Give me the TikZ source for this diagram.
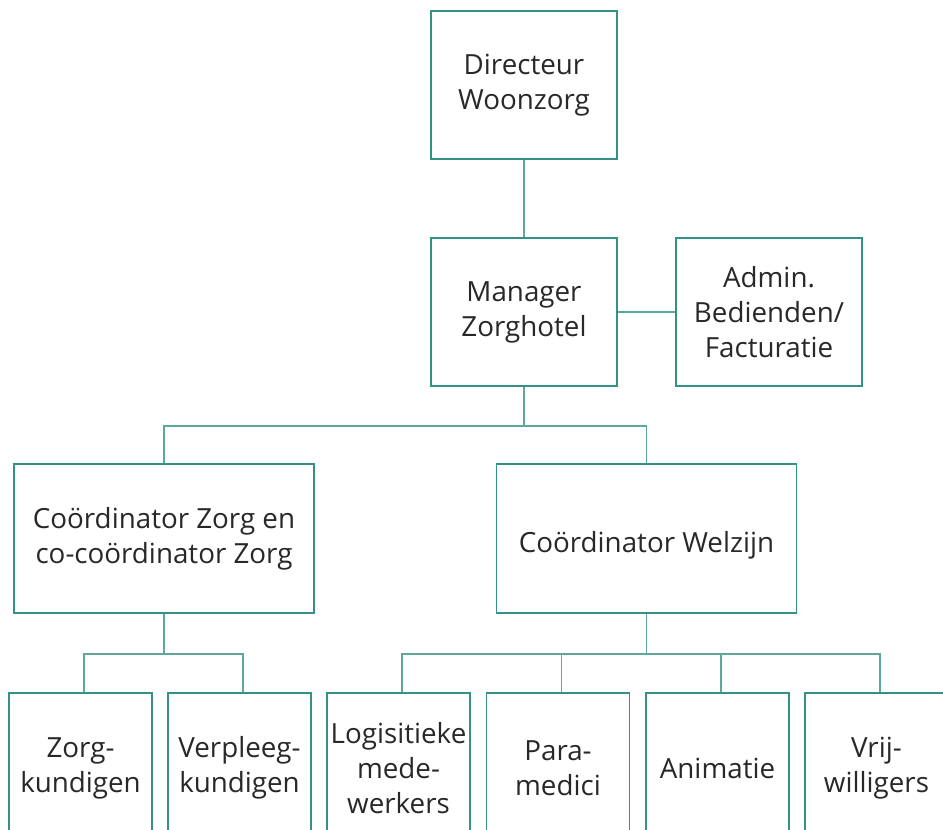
\documentclass[tikz,border=0pt]{standalone}
\usepackage{fontspec}
\setmainfont{Open Sans}
\usetikzlibrary{positioning}
\definecolor{orgteal}{RGB}{52,145,133}
\definecolor{orgtext}{RGB}{40,40,40}

\begin{document}
\begin{tikzpicture}[x=0.02cm, y=-0.02cm,
    orgbox/.style={draw=orgteal, line width=0.7pt, text=orgtext, align=center,
        inner sep=0pt, font=\fontsize{15.8}{20}\selectfont},
    dropped/.style={execute at begin node={\rule{0pt}{19.5pt}}},
    topbox/.style={orgbox, dropped, minimum width=3.72cm, minimum height=2.96cm},
    coordbox/.style={orgbox, dropped, minimum width=6cm, minimum height=2.98cm},
    teambox/.style={orgbox, minimum width=2.86cm, minimum height=3cm},
    link/.style={draw=orgteal!80, line width=0.7pt}]
    \useasboundingbox (0,0) rectangle (943,830);
    \clip (0,0) rectangle (943,830);

    \node[topbox] (dir) at (524,85) {Directeur\\Woonzorg};
    \node[topbox] (mgr) at (524,312) {Manager\\Zorghotel};
    \node[topbox] (adm) at (769,312) {Admin.\\Bedienden/\\Facturatie};

    \node[coordbox] (czorg) at (164,538.5) {Coördinator Zorg en\\co-coördinator Zorg};
    \node[coordbox] (cwelz) at (646.5,538.5) {Coördinator Welzijn};

    \node[teambox] (zk) at (80.5,768) {Zorg-\\kundigen};
    \node[teambox] (vk) at (239.5,768) {Verpleeg-\\kundigen};
    \node[teambox] (lm) at (398.5,768) {Logisitieke\\mede-\\werkers};
    \node[teambox] (pm) at (558,768) {Para-\\medici};
    \node[teambox] (an) at (717.5,768) {Animatie};
    \node[teambox] (vw) at (876.5,768) {Vrij-\\willigers};

    \coordinate (busmgr) at (524,426);
    \coordinate (buszorg) at (164,654);
    \coordinate (buswelz) at (646.5,654);

    \draw[link] (dir) -- (mgr);
    \draw[link] (mgr) -- (adm);
    \draw[link] (mgr.south) -- (busmgr);
    \draw[link] (czorg.north) |- (busmgr) -| (cwelz.north);

    \draw[link] (czorg.south) -- (buszorg);
    \draw[link] ([xshift=0.07cm]zk.north) |- (buszorg) -| ([xshift=0.07cm]vk.north);

    \draw[link] (cwelz.south) -- (buswelz);
    \draw[link] ([xshift=0.07cm]lm.north) |- (buswelz) -| ([xshift=0.07cm]vw.north);
    \draw[link] ([xshift=0.07cm]pm.north) -- ([xshift=0.07cm]pm.north |- buswelz);
    \draw[link] ([xshift=0.07cm]an.north) -- ([xshift=0.07cm]an.north |- buswelz);
\end{tikzpicture}
\end{document}
